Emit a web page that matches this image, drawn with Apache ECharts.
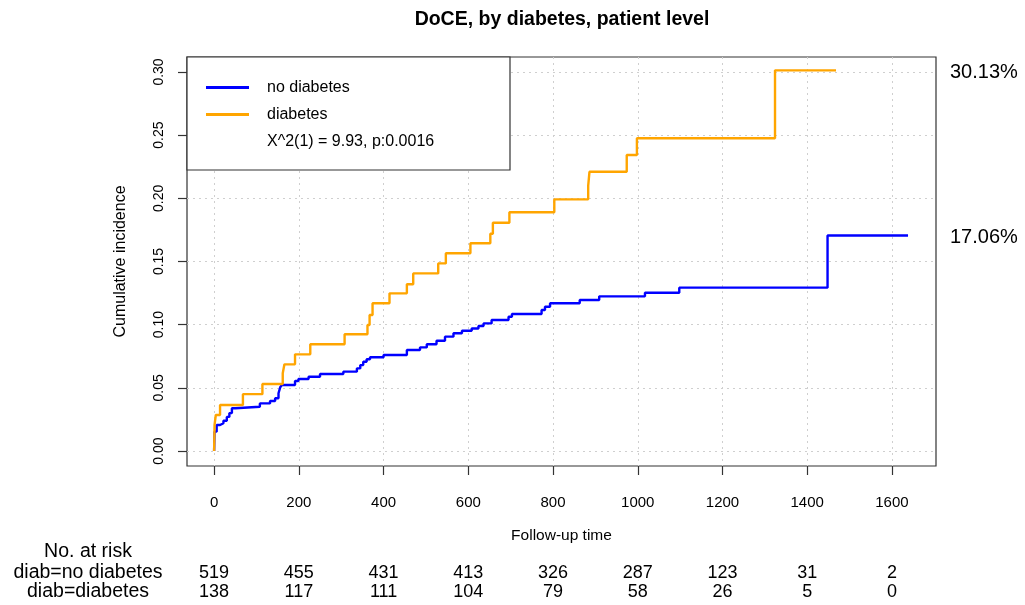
<!DOCTYPE html>
<html>
<head>
<meta charset="utf-8">
<title>DoCE, by diabetes, patient level</title>
<script src="https://cdn.jsdelivr.net/npm/echarts@6/dist/echarts.min.js"></script>
<style>
  html, body { margin: 0; padding: 0; background: #fff; }
  #chart { width: 1025px; height: 605px; }
</style>
</head>
<body>
<div id="chart"></div>
<script>
// Cumulative incidence step curves: [time, cumulative incidence]
const noDiabetes = [
  [0, 0], [1, 0.0153], [6, 0.0206], [14, 0.022], [22, 0.024], [30, 0.027],
  [36, 0.030], [42, 0.0338], [50, 0.035], [108, 0.0377], [132, 0.0396],
  [144, 0.0417], [152, 0.0457], [156, 0.0504], [160, 0.0522], [191, 0.0554],
  [199, 0.057], [223, 0.0588], [250, 0.061], [305, 0.0628], [337, 0.0654],
  [345, 0.068], [352, 0.0707], [360, 0.0726], [368, 0.0742], [400, 0.076],
  [455, 0.080], [486, 0.082], [502, 0.0845], [525, 0.0873], [545, 0.0905],
  [565, 0.0932], [585, 0.0952], [608, 0.097], [624, 0.099], [636, 0.101],
  [655, 0.1037], [695, 0.1063], [703, 0.1085], [773, 0.1116], [781, 0.1142],
  [793, 0.1169], [863, 0.1195], [909, 0.1224], [1017, 0.1253], [1098, 0.1293],
  [1448, 0.1706], [1638, 0.1706]
];
const diabetes = [
  [0, 0], [1, 0.0206], [4, 0.0285], [14, 0.0364], [68, 0.045], [114, 0.053],
  [162, 0.0615], [166, 0.0686], [191, 0.0765], [227, 0.0845], [308, 0.0924],
  [362, 0.0997], [367, 0.1077], [374, 0.1169], [414, 0.1248], [455, 0.132],
  [470, 0.1406], [529, 0.1485], [547, 0.1565], [605, 0.1644], [652, 0.172],
  [658, 0.1807], [697, 0.189], [803, 0.1992], [883, 0.2098], [886, 0.221],
  [974, 0.2343], [998, 0.2475], [1324, 0.3013], [1468, 0.3013]
];

// Axis ticks
const xTicks = [0, 200, 400, 600, 800, 1000, 1200, 1400, 1600];
const yTicks = [0, 0.05, 0.10, 0.15, 0.20, 0.25, 0.30];

// Number at risk at each x tick
const riskNoDiabetes = [519, 455, 431, 413, 326, 287, 123, 31, 2];
const riskDiabetes = [138, 117, 111, 104, 79, 58, 26, 5, 0];

const seriesNames = ['no diabetes', 'diabetes'];
const testText = 'X^2(1) = 9.93, p:0.0016';

const FONT = "'Liberation Sans', Arial, Helvetica, sans-serif";
const BLUE = '#0000FF';
const ORANGE = '#FFA500';

const chart = echarts.init(document.getElementById('chart'), null, { renderer: 'canvas' });

const gridLine = { show: true, lineStyle: { color: '#cfcfcf', type: [2, 4], width: 1 } };

chart.setOption({
  animation: false,
  backgroundColor: '#fff',
  title: {
    text: 'DoCE, by diabetes, patient level',
    left: 557, top: 5, textAlign: 'center',
    textStyle: { fontFamily: FONT, fontSize: 19.5, fontWeight: 'bold', color: '#000' }
  },
  grid: {
    left: 187, right: 89, top: 57, bottom: 139,
    show: true, borderColor: '#333', borderWidth: 1.2, backgroundColor: 'transparent'
  },
  legend: {
    data: seriesNames,
    orient: 'vertical',
    left: 201, top: 73,
    icon: 'rect', itemWidth: 43, itemHeight: 3, itemGap: 8,
    z: 6,
    textStyle: { fontFamily: FONT, fontSize: 16, color: '#000', lineHeight: 19, padding: [0, 0, 0, 13] }
  },
  xAxis: {
    type: 'value', min: -64, max: 1704,
    name: 'Follow-up time', nameLocation: 'middle', nameGap: 62,
    nameTextStyle: { fontFamily: FONT, fontSize: 15.5, color: '#000' },
    axisLine: { show: false, onZero: false },
    axisTick: { show: true, inside: false, length: 9, customValues: xTicks, lineStyle: { color: '#333', width: 1.2 } },
    axisLabel: { customValues: xTicks, margin: 29, fontFamily: FONT, fontSize: 15, color: '#000', formatter: v => String(v) },
    splitLine: gridLine
  },
  yAxis: {
    type: 'value', min: -0.01187, max: 0.31187,
    name: 'Cumulative incidence', nameLocation: 'middle', nameGap: 58, nameRotate: 90,
    nameTextStyle: { fontFamily: FONT, fontSize: 16, color: '#000' },
    axisLine: { show: false, onZero: false },
    axisTick: { show: true, inside: false, length: 9, customValues: yTicks, lineStyle: { color: '#333', width: 1.2 } },
    axisLabel: {
      customValues: yTicks, rotate: 90, margin: 21,
      fontFamily: FONT, fontSize: 14, color: '#000',
      formatter: v => v.toFixed(2)
    },
    splitLine: gridLine
  },
  series: [
    {
      name: seriesNames[0], type: 'line', step: 'end', data: noDiabetes,
      showSymbol: false, symbol: 'none', z: 2,
      itemStyle: { color: BLUE },
      lineStyle: { color: BLUE, width: 2.4 }
    },
    {
      name: seriesNames[1], type: 'line', step: 'end', data: diabetes,
      showSymbol: false, symbol: 'none', z: 3,
      itemStyle: { color: ORANGE },
      lineStyle: { color: ORANGE, width: 2.4 }
    }
  ]
});

// Annotations placed through the chart's own coordinate conversion
const toPx = (x, y) => chart.convertToPixel({ gridIndex: 0 }, [x, y]);
const graphics = [];

// Legend frame and test statistic
graphics.push({
  type: 'rect', z: 5,
  shape: { x: 187, y: 57, width: 323, height: 113 },
  style: { fill: '#fff', stroke: '#333', lineWidth: 1.2 }
});
graphics.push({
  type: 'text', z: 6, x: 267, y: 142,
  style: { text: testText, fontFamily: FONT, fontSize: 16, fill: '#000', verticalAlign: 'middle' }
});

// Final cumulative incidence labels on the right
[noDiabetes, diabetes].forEach(s => {
  const last = s[s.length - 1][1];
  const py = toPx(0, last)[1];
  graphics.push({
    type: 'text', x: 950, y: py + 2,
    style: { text: (last * 100).toFixed(2) + '%', fontFamily: FONT, fontSize: 20, fill: '#000', verticalAlign: 'middle' }
  });
});

// Number-at-risk table
const labelX = 88;
const labelStyle = { fontFamily: FONT, fontSize: 19.5, fill: '#000', align: 'center', verticalAlign: 'middle' };
const numStyle = { fontFamily: FONT, fontSize: 18, fill: '#000', align: 'center', verticalAlign: 'middle' };
graphics.push({ type: 'text', x: labelX, y: 552, style: Object.assign({ text: 'No. at risk' }, labelStyle) });
graphics.push({ type: 'text', x: labelX, y: 573, style: Object.assign({ text: 'diab=no diabetes' }, labelStyle) });
graphics.push({ type: 'text', x: labelX, y: 592, style: Object.assign({ text: 'diab=diabetes' }, labelStyle) });
xTicks.forEach((t, i) => {
  const px = toPx(t, 0)[0];
  graphics.push({ type: 'text', x: px, y: 573, style: Object.assign({ text: String(riskNoDiabetes[i]) }, numStyle) });
  graphics.push({ type: 'text', x: px, y: 592, style: Object.assign({ text: String(riskDiabetes[i]) }, numStyle) });
});

chart.setOption({ graphic: { elements: graphics } });
</script>
</body>
</html>
